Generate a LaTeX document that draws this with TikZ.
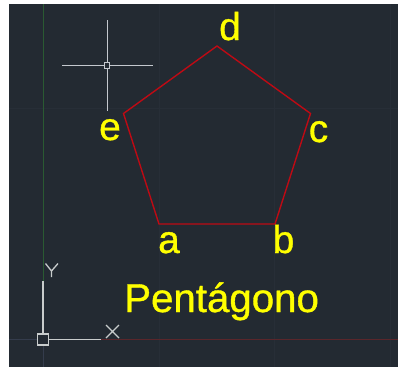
\documentclass[tikz,border=0pt]{standalone}
\usepackage{fontspec}
\setmainfont[AutoFakeBold=0.9]{Liberation Sans}
\definecolor{bgdark}{HTML}{232A32}
\definecolor{gridline}{HTML}{272E37}
\definecolor{axisgreen}{HTML}{2A5A32}
\definecolor{axisred}{HTML}{5A262B}
\definecolor{axisblue}{HTML}{343C4C}
\definecolor{penred}{HTML}{BE0A14}
\definecolor{ucs}{HTML}{C8CCCC}
\definecolor{cursor}{HTML}{C4C8CE}
\definecolor{labelyellow}{HTML}{FFFF00}
\tikzset{
  vertex/.style={coordinate},
  lbl/.style={text=labelyellow,font=\bfseries\fontsize{39}{39}\selectfont,inner sep=0pt,anchor=base},
  side/.style={draw=penred,line width=1.4pt,line join=miter},
  faint/.style={draw=gridline,line width=0.7pt},
  ucsline/.style={draw=ucs,line width=1.5pt},
  cursorline/.style={draw=cursor,line width=1.5pt}
}
\begin{document}
\begin{tikzpicture}[x=1bp,y=-1bp]
\useasboundingbox (0,0) rectangle (398,367);
\fill[white] (0,0) rectangle (398,367);
\fill[bgdark] (9,4) rectangle (398,367);
% grid
\draw[faint] (9,108) -- (398,108);
\draw[faint] (159,4) -- (159,367);
\draw[faint] (274,4) -- (274,367);
\draw[faint] (390,4) -- (390,367);
% world axes
\coordinate (ol) at (9,339.5);
\coordinate (xe) at (101,339.5);
\coordinate (re) at (398,339.5);
\coordinate (yt) at (43,4);
\coordinate (ye) at (43,281);
\coordinate (yb) at (43,367);
\coordinate (o) at (43,339.5);
\draw[axisgreen,line width=0.9pt] (yt) -- (ye);
\draw[axisblue,line width=0.9pt] (o) -- (yb);
\draw[axisblue,line width=0.9pt] (ol) -- (o);
\draw[axisred,line width=1.3pt] (xe) -- (re);
% UCS icon
\draw[ucsline] (ye) -- (o) -- (xe);
\node[draw=ucs,line width=1.5pt,fill=bgdark,minimum size=11bp,inner sep=0pt] (box) at (o) {};
\coordinate (ya) at (45.5,263.5);
\coordinate (yc) at (58,263.5);
\coordinate (ym) at (51.5,271);
\coordinate (yd) at (51.5,277);
\draw[ucs,line width=1.3pt] (ya) -- (ym) -- (yc) (ym) -- (yd);
\coordinate (xa) at (106,325);
\coordinate (xb) at (119,338);
\coordinate (xc) at (119,325);
\coordinate (xd) at (106,338);
\draw[ucs,line width=1.3pt] (xa) -- (xb) (xc) -- (xd);
% crosshair
\coordinate (cl) at (62,65.5);
\coordinate (cr) at (153,65.5);
\coordinate (ct) at (107.3,20);
\coordinate (cb) at (107.3,111);
\draw[cursorline] (cl) -- (cr) (ct) -- (cb);
\node[draw=cursor,fill=bgdark,line width=1.3pt,minimum width=5bp,minimum height=6.5bp,inner sep=0pt] (cbox) at (107.3,65.5) {};
% pentagon
\coordinate (a) at (159,224);
\coordinate (b) at (275,224);
\coordinate (c) at (310.5,113.5);
\coordinate (d) at (217,46);
\coordinate (e) at (123.5,113.5);
\draw[side] (a) -- (b) -- (c) -- (d) -- (e) -- cycle;
% labels
\node[lbl] (la) at (169,253) {a};
\node[lbl] (lb) at (283.5,253) {b};
\node[lbl] (lc) at (318.5,142) {c};
\node[lbl] (ld) at (230,40) {d};
\node[lbl] (le) at (110,140) {e};
\node[text=labelyellow,font=\bfseries\fontsize{40.4}{40}\selectfont,inner sep=0pt,anchor=base west] (title) at (124,312) {Pentágono};
\end{tikzpicture}
\end{document}
